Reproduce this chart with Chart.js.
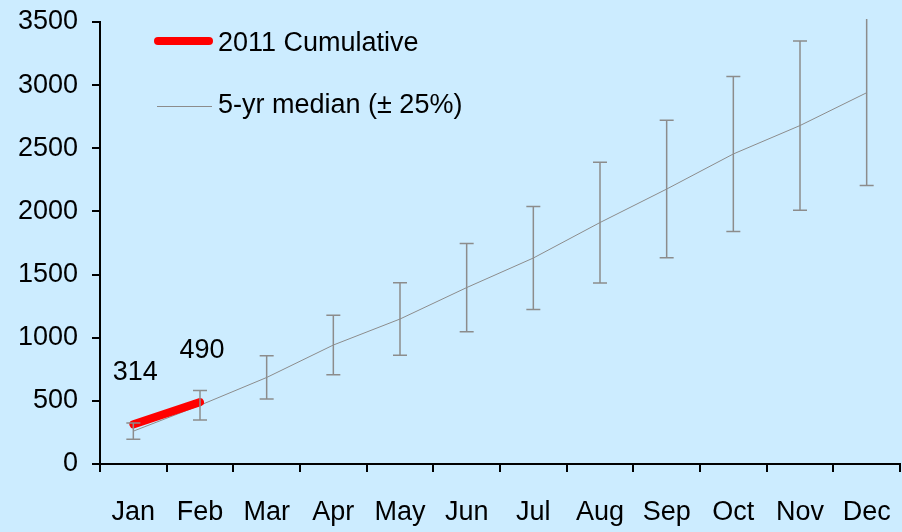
<!DOCTYPE html>
<html>
<head>
<meta charset="utf-8">
<script src="https://cdn.jsdelivr.net/npm/chart.js@4"></script>
<style>
  html, body { margin: 0; padding: 0; background: #CCECFF; }
  #wrap { width: 902px; height: 532px; }
</style>
</head>
<body>
<div id="wrap"><canvas id="cum-chart" width="902" height="532"></canvas></div>
<script>
var months = ["Jan", "Feb", "Mar", "Apr", "May", "Jun", "Jul", "Aug", "Sep", "Oct", "Nov", "Dec"];
var cum2011 = [314, 490];
var medianValues = [260, 465, 685, 942, 1148, 1397, 1631, 1912, 2177, 2455, 2680, 2940];
var errPct = 0.25; // +/- 25%
var yTicks = [0, 500, 1000, 1500, 2000, 2500, 3000, 3500];
var FONT = "'Liberation Sans', Arial, sans-serif";
var FSIZE = 27;

// error bars on the median series
var errorBars = {
  id: 'errorBars',
  afterDatasetsDraw: function (chart) {
    var meta = chart.getDatasetMeta(1);
    var y = chart.scales.y, a = chart.chartArea;
    var ctx = chart.ctx;
    ctx.save();
    ctx.strokeStyle = '#8C8C8C';
    ctx.lineWidth = 1.5;
    meta.data.forEach(function (pt, i) {
      var v = medianValues[i];
      var top = Math.max(y.getPixelForValue(v * (1 + errPct)), a.top - 3);
      var bot = y.getPixelForValue(v * (1 - errPct));
      ctx.beginPath();
      ctx.moveTo(pt.x, top); ctx.lineTo(pt.x, bot);
      ctx.moveTo(pt.x - 7, bot); ctx.lineTo(pt.x + 7, bot);
      if (v * (1 + errPct) <= 3500) { ctx.moveTo(pt.x - 7, top); ctx.lineTo(pt.x + 7, top); }
      ctx.stroke();
    });
    ctx.restore();
  }
};

// value labels over the 2011 points + legend in the plot area
var labelsAndLegend = {
  id: 'labelsAndLegend',
  afterDraw: function (chart) {
    var ctx = chart.ctx;
    ctx.save();
    ctx.font = FSIZE + 'px ' + FONT;
    ctx.fillStyle = '#000';
    ctx.textAlign = 'center';
    ctx.textBaseline = 'middle';
    chart.getDatasetMeta(0).data.forEach(function (pt, i) {
      ctx.fillText(String(cum2011[i]), pt.x + 2, pt.y - 52);
    });
    // legend
    ctx.textAlign = 'left';
    ctx.lineCap = 'round';
    ctx.strokeStyle = '#FF0000';
    ctx.lineWidth = 8;
    ctx.beginPath(); ctx.moveTo(158, 41); ctx.lineTo(209, 41); ctx.stroke();
    ctx.fillText(chart.data.datasets[0].label, 218, 44);
    ctx.lineCap = 'butt';
    ctx.strokeStyle = '#8C8C8C';
    ctx.lineWidth = 1;
    ctx.beginPath(); ctx.moveTo(157, 106.5); ctx.lineTo(212, 106.5); ctx.stroke();
    ctx.fillText(chart.data.datasets[1].label, 218, 106);
    ctx.restore();
  }
};

new Chart("cum-chart", {
  type: "line",
  data: {
    labels: months,
    datasets: [
      {
        label: '2011 Cumulative',
        data: cum2011,
        borderColor: '#FF0000',
        borderWidth: 8,
        borderCapStyle: 'round',
        pointRadius: 0,
        order: 0,
      },
      {
        label: '5-yr median (\u00B1 25%)',
        data: medianValues,
        borderColor: '#8C8C8C',
        borderWidth: 1,
        pointRadius: 0,
        order: 1,
      },
    ],
  },
  options: {
    responsive: false,
    animation: false,
    layout: { padding: { top: 22, right: 2, left: 0, bottom: 0 } },
    plugins: {
      legend: { display: false },
      tooltip: { enabled: false },
    },
    scales: {
      x: {
        offset: true,
        grid: { offset: true, drawOnChartArea: false, color: '#000', lineWidth: 2, tickLength: 8 },
        border: { display: true, color: '#000', width: 2 },
        ticks: { color: '#000', font: { family: FONT, size: FSIZE }, padding: 24, maxRotation: 0, autoSkip: false },
        afterFit: function (s) { s.height = 68; s.paddingRight = 0; s.paddingLeft = 0; },
      },
      y: {
        min: 0,
        max: 3500,
        afterBuildTicks: function (s) { s.ticks = yTicks.map(function (v) { return { value: v }; }); },
        grid: { drawOnChartArea: false, color: '#000', lineWidth: 2, tickLength: 8 },
        border: { display: true, color: '#000', width: 2 },
        ticks: {
          color: '#000', font: { family: FONT, size: FSIZE }, padding: 14,
          callback: function (v) { return String(v); },
        },
        afterFit: function (s) { s.width = 100; s.paddingTop = 0; s.paddingBottom = 0; },
      },
    },
  },
  plugins: [errorBars, labelsAndLegend],
});
</script>
</body>
</html>
